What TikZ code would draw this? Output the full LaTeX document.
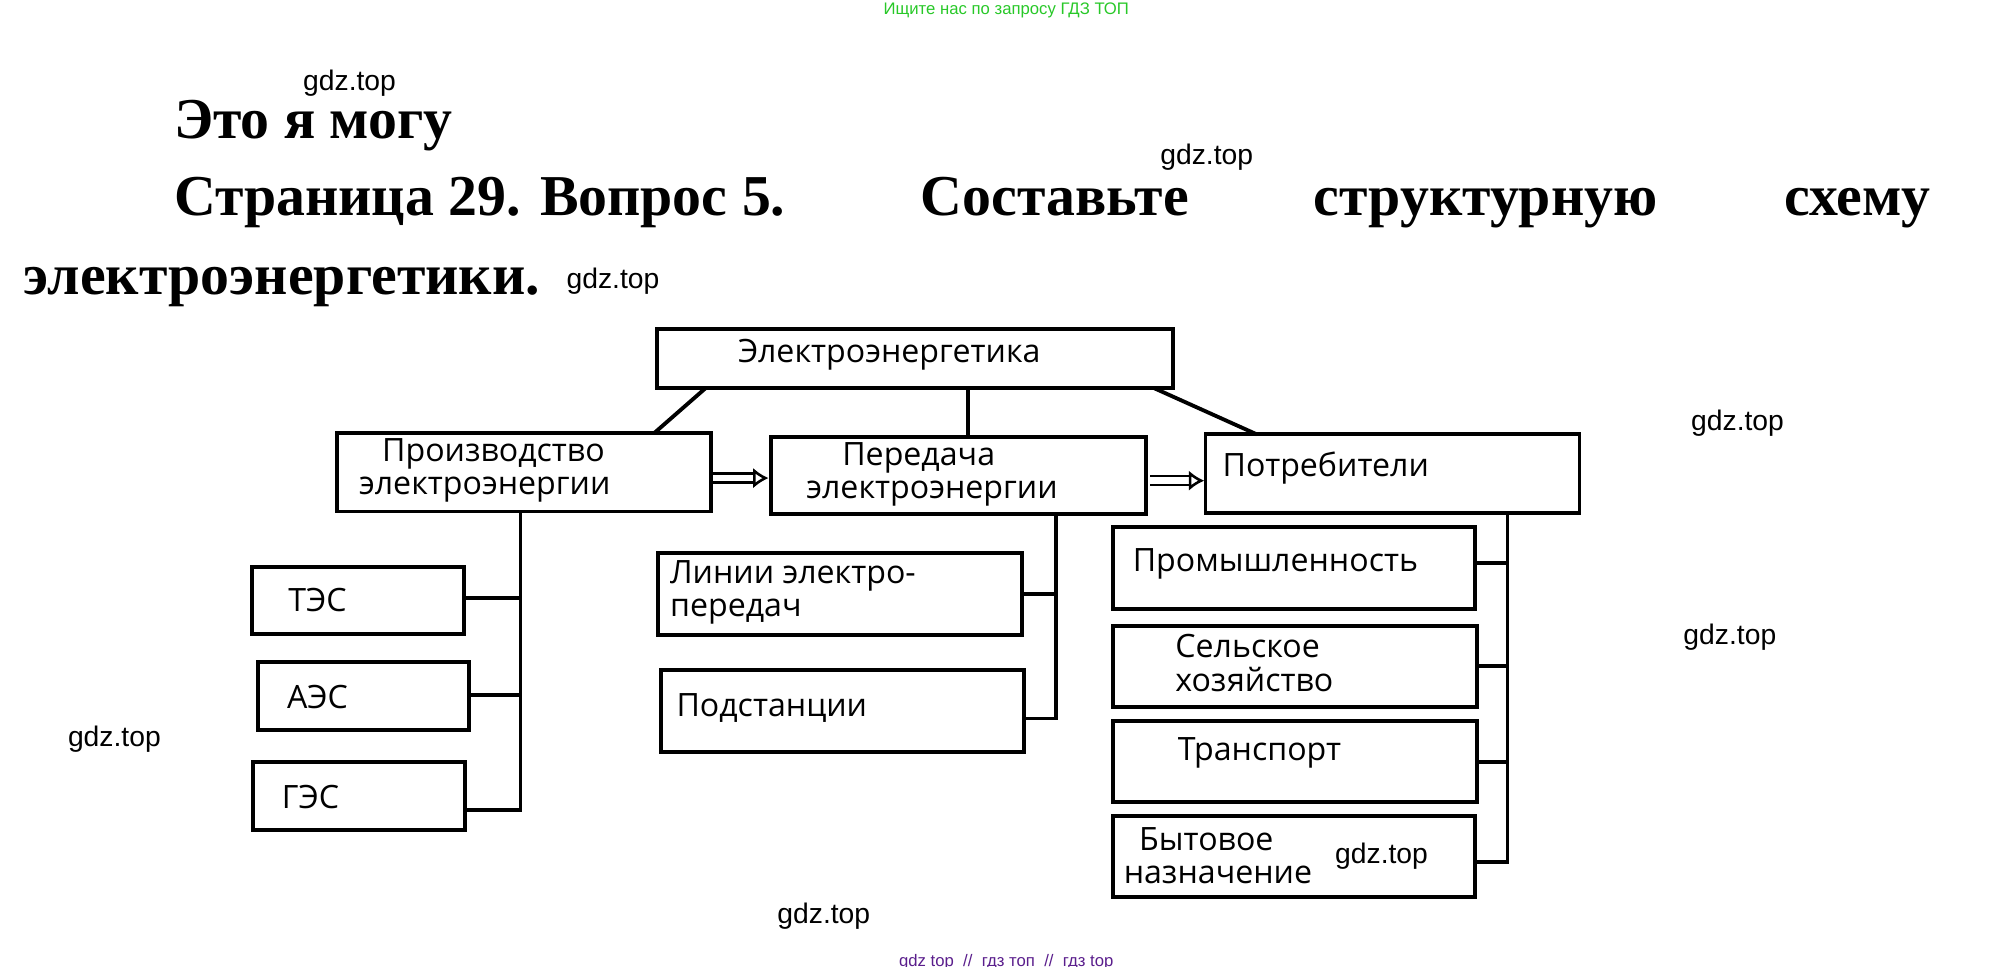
\documentclass[tikz,border=0pt]{standalone}
\usepackage{fontspec}
\setmainfont{Liberation Serif}
\newfontfamily\boxfont{Open Sans}
\newfontfamily\wmfont{Liberation Sans}
\usetikzlibrary{arrows.meta,positioning}
\definecolor{wmgreen}{RGB}{40,200,40}
\definecolor{wmpurple}{RGB}{90,30,140}
\tikzset{
  blk/.style={draw,line width=1.5pt,inner sep=0pt},
  lbl/.style={font=\boxfont\fontsize{12.5}{13}\selectfont,align=left,inner sep=0pt},
  conn/.style={line width=1.5pt},
  dbl/.style={double,double distance=2.5pt,line width=1pt,-{Latex[open,length=6pt,width=8pt,line width=1pt]}},
  wm/.style={font=\wmfont\fontsize{11}{12}\selectfont,inner sep=0pt},
  ttl/.style={font=\bfseries\fontsize{22.5}{24}\selectfont,anchor=base west,inner sep=0pt}
}
\begin{document}
\begin{tikzpicture}[x=0.5pt,y=-0.5pt]
\useasboundingbox (0,0) rectangle (1550,752);
% watermarks
\node[wm,font=\wmfont\fontsize{6.5}{7}\selectfont,text=wmgreen] (wtop) at (783,8) {Ищите нас по запросу ГДЗ ТОП};
\node[wm,font=\wmfont\fontsize{6.5}{7}\selectfont,text=wmpurple] (wbot) at (783,749) {gdz top \ // \ гдз топ \ // \ гдз top};
\foreach \x/\y [count=\i] in {272/65,939/122,477/219,1352/329,1346/496,89/575,1075/666,641/713}
  \node[wm] (gdz\i) at (\x,\y) {gdz.top};
% heading
\node[ttl] (t1) at (135,108) {Это я могу};
\node[ttl] (t2) at (135,168) {Страница 29. Вопрос 5.};
\node[ttl] (t3) at (716,168) {Составьте};
\node[ttl] (t4) at (1022,168) {структурную};
\node[ttl] (t5) at (1388,168) {схему};
\node[ttl] (t6) at (18,229) {электроэнергетики.};
% boxes
\draw[blk] (511,256) rectangle (913,302);
\node[lbl] (ee) at (692,276) {Электроэнергетика};
\draw[blk] (262,337) rectangle (553,398);
\node[lbl,anchor=west] (pr) at (279,366) {\hspace*{9pt}Производство\\электроэнергии};
\draw[blk] (600,340) rectangle (892,400);
\node[lbl,anchor=west] (pe) at (627,369) {\hspace*{14pt}Передача\\электроэнергии};
\draw[blk] (938,338) rectangle (1229,399);
\node[lbl,anchor=west] (po) at (951,364) {Потребители};
\draw[blk] (196,441) rectangle (361,493);
\node[lbl,anchor=west] (tes) at (224,467) {ТЭС};
\draw[blk] (201,515) rectangle (365,568);
\node[lbl,anchor=west] (aes) at (223,542) {АЭС};
\draw[blk] (197,593) rectangle (362,646);
\node[lbl,anchor=west] (ges) at (219,620) {ГЭС};
\draw[blk] (512,430) rectangle (795,494);
\node[lbl,anchor=west] (lep) at (521,461) {Линии электро-\\передач};
\draw[blk] (514,521) rectangle (797,585);
\node[lbl,anchor=west] (ps) at (526,551) {Подстанции};
\draw[blk] (866,410) rectangle (1148,474);
\node[lbl,anchor=west] (prom) at (881,439) {Промышленность};
\draw[blk] (866,487) rectangle (1149,550);
\node[lbl] (sh) at (976,516) {Сельское\\хозяйство};
\draw[blk] (866,561) rectangle (1149,624);
\node[lbl] (tr) at (980,586) {Транспорт};
\draw[blk] (866,635) rectangle (1148,698);
\node[lbl,anchor=west] (byt) at (874,666) {\hspace*{6pt}Бытовое\\назначение};
% connectors
\draw[conn] (549,302) -- (509,337);
\draw[conn] (753,302) -- (753,340);
\draw[conn] (898,302) -- (978,338);
\draw[dbl] (555,372) -- (598,372);
\draw[dbl] (895,374) -- (937,374);
\draw[conn] (405,398) -- (405,630) -- (362,630);
\draw[conn] (361,465) -- (405,465);
\draw[conn] (365,541) -- (405,541);
\draw[conn] (822,400) -- (822,559) -- (797,559);
\draw[conn] (795,462) -- (822,462);
\draw[conn] (1173,399) -- (1173,671) -- (1148,671);
\foreach \y in {438,518,593}
  \draw[conn] (1148,\y) -- (1173,\y);
\end{tikzpicture}
\end{document}
